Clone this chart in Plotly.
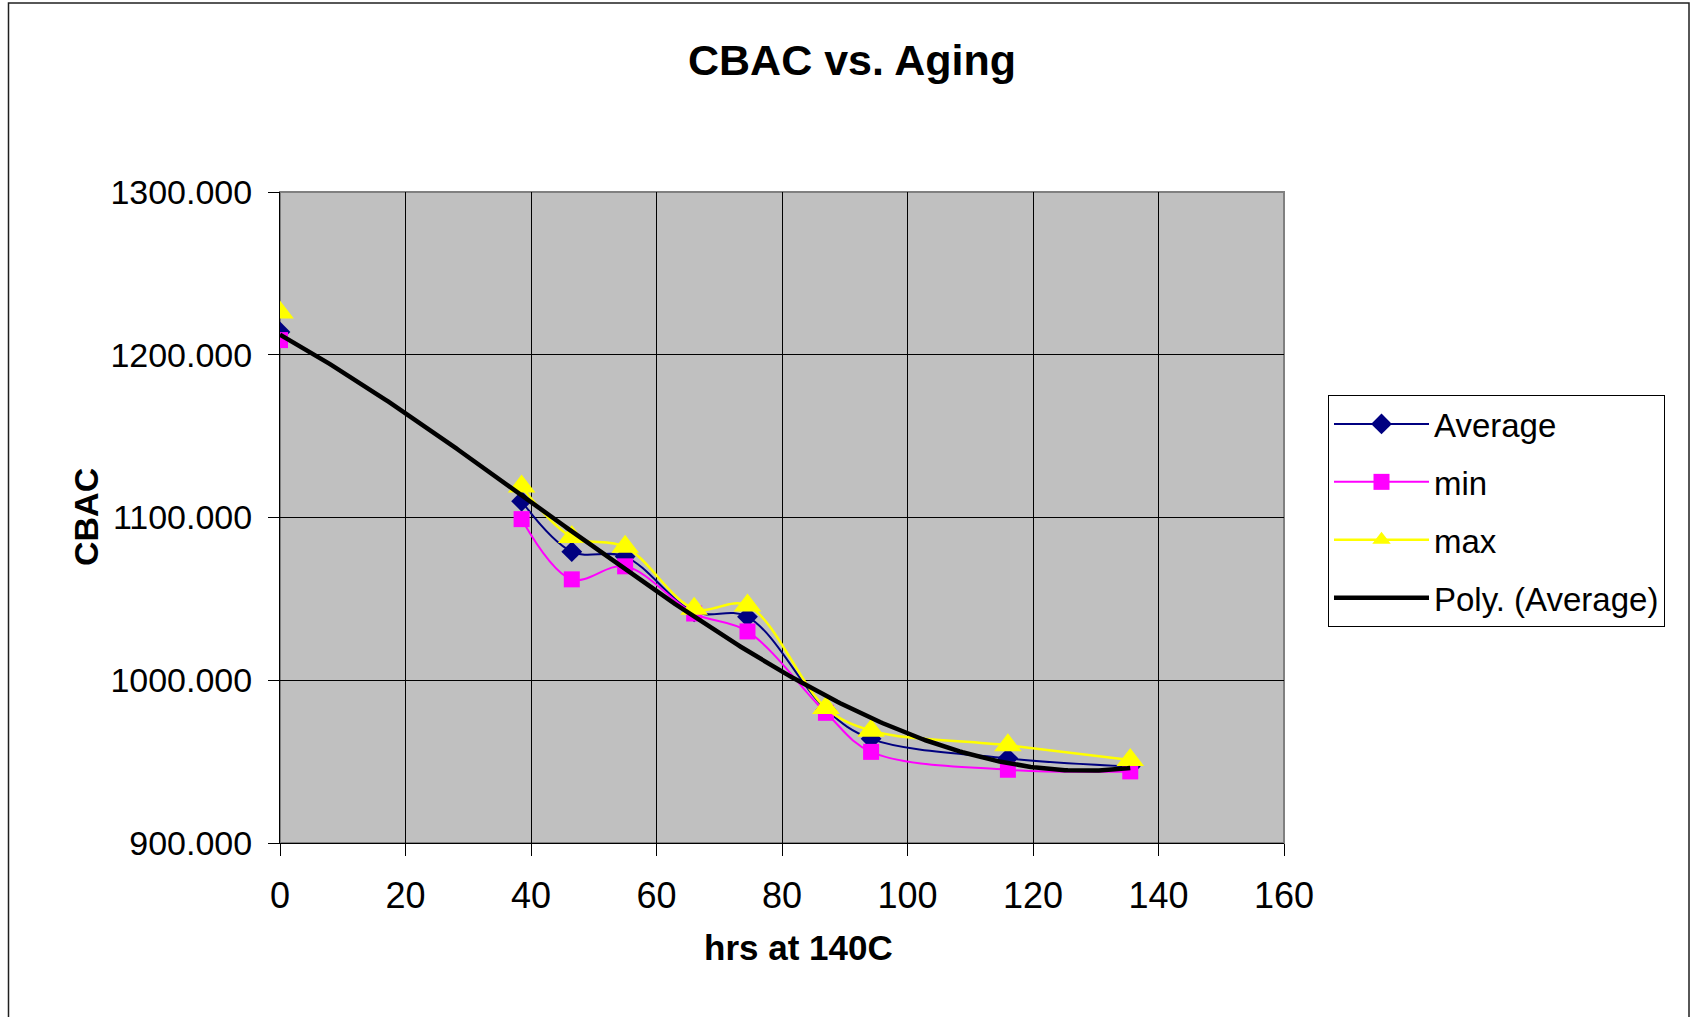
import numpy as np
import plotly.graph_objects as go

# Aging time (hours at 140C) and measured CBAC values.
# The blank entry keeps the series lines from joining the first reading.
hours = [0, None, 38.5, 46.5, 55, 66, 74.5, 87, 94.2, 116, 135.5]
cbac_avg = [1214, None, 1110, 1079, 1076, 1042, 1039, 982, 964, 952, 947]
cbac_min = [1209, None, 1099, 1062, 1070, 1041, 1030, 980, 956, 945, 944]
cbac_max = [1226, None, 1119, 1088, 1082, 1044, 1046, 983, 969, 960, 951]

x_ticks = [0, 20, 40, 60, 80, 100, 120, 140, 160]
y_ticks = [900, 1000, 1100, 1200, 1300]

FONT = "Liberation Sans, Arial, sans-serif"

# Polynomial (3rd order) trend line of the average series
fit_x = [h for h, v in zip(hours, cbac_avg) if v is not None]
fit_y = [v for v in cbac_avg if v is not None]
coef = np.polyfit(fit_x, fit_y, 3)
trend_x = np.linspace(min(fit_x), max(fit_x), 300)
trend_y = np.polyval(coef, trend_x)

fig = go.Figure()
fig.add_trace(go.Scatter(
    x=hours, y=cbac_avg, name="Average", mode="lines+markers",
    connectgaps=False,
    line=dict(color="#000080", width=2, shape="spline", smoothing=1),
    marker=dict(symbol="diamond", size=16, color="#000080"),
    legendgroup="a"))
fig.add_trace(go.Scatter(
    x=hours, y=cbac_min, name="min", mode="lines+markers",
    connectgaps=False,
    line=dict(color="#FF00FF", width=2, shape="spline", smoothing=1),
    marker=dict(symbol="square", size=16, color="#FF00FF"),
    legendgroup="b"))
fig.add_trace(go.Scatter(
    x=hours, y=cbac_max, name="max", mode="lines+markers",
    connectgaps=False,
    line=dict(color="#FFFF00", width=2.5, shape="spline", smoothing=1),
    marker=dict(symbol="triangle-up", size=24, color="#FFFF00"),
    legendgroup="c"))
fig.add_trace(go.Scatter(
    x=trend_x, y=trend_y, name="Poly. (Average)", mode="lines",
    line=dict(color="#000000", width=4.5),
    legendgroup="d"))

L, R, T, B = 280, 412, 192, 174
W, H = 1696, 1017
pw, ph = W - L - R, H - T - B


def px(xp):
    return (xp - L) / pw


def py(yp):
    return (H - B - yp) / ph


fig.update_layout(
    width=W, height=H,
    margin=dict(l=L, r=R, t=T, b=B, pad=0),
    paper_bgcolor="white",
    plot_bgcolor="#C0C0C0",
    font=dict(family=FONT, color="black"),
    showlegend=True,
    legend=dict(
        x=px(1328), y=py(395), xanchor="left", yanchor="top",
        bgcolor="white", bordercolor="black", borderwidth=1,
        font=dict(family=FONT, size=33, color="black"),
        tracegroupgap=12, traceorder="grouped", itemwidth=95,
    ),
    xaxis=dict(
        range=[0, 160], tickvals=x_ticks, ticktext=[str(v) for v in x_ticks],
        showgrid=True, gridcolor="black", gridwidth=1,
        zeroline=False, showline=True, linecolor="black", linewidth=1,
        ticks="outside", ticklen=12, tickcolor="black", tickwidth=1,
        tickfont=dict(family=FONT, size=36, color="black"),
        ticklabelstandoff=9,
    ),
    yaxis=dict(
        range=[900, 1300], tickvals=y_ticks,
        ticktext=[f"{v:.3f}" for v in y_ticks],
        showgrid=True, gridcolor="black", gridwidth=1,
        zeroline=False, showline=True, linecolor="black", linewidth=1,
        ticks="outside", ticklen=11, tickcolor="black", tickwidth=1,
        tickfont=dict(family=FONT, size=34, color="black"),
        ticklabelstandoff=9,
    ),
    shapes=[
        # plot area frame
        dict(type="rect", xref="paper", yref="paper", x0=0, x1=1, y0=0, y1=1,
             line=dict(color="#808080", width=2), layer="below"),
        # chart area frame
        dict(type="rect", xref="paper", yref="paper",
             x0=px(8.5), x1=px(1689), y0=py(1030), y1=py(3),
             line=dict(color="#202020", width=1.5)),
    ],
    annotations=[
        dict(text="<b>CBAC vs. Aging</b>", xref="paper", yref="paper",
             x=px(852), y=py(60), xanchor="center", yanchor="middle",
             showarrow=False, font=dict(family=FONT, size=43, color="black")),
        dict(text="<b>hrs at 140C</b>", xref="paper", yref="paper",
             x=px(798), y=py(947), xanchor="center", yanchor="middle",
             showarrow=False, font=dict(family=FONT, size=35, color="black")),
        dict(text="<b>CBAC</b>", xref="paper", yref="paper",
             x=px(86), y=py(517), xanchor="center", yanchor="middle",
             textangle=-90, showarrow=False,
             font=dict(family=FONT, size=34, color="black")),
    ],
)

fig.write_html("out.html")
